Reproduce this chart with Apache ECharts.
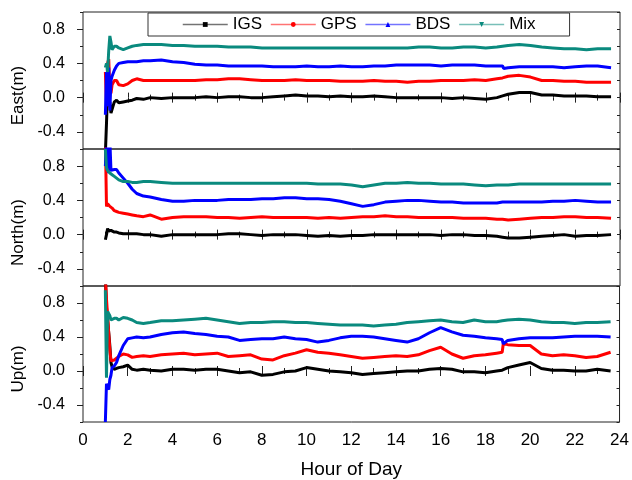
<!DOCTYPE html>
<html>
<head>
<meta charset="utf-8">
<script src="https://cdn.jsdelivr.net/npm/echarts@6/dist/echarts.min.js"></script>
<style>
  html, body { margin: 0; padding: 0; background: #fff; }
  #main { width: 632px; height: 480px; }
</style>
</head>
<body>
<div id="main"></div>
<script>
// hour of day (shared by every series)
const hours = [1.0, 1.05, 1.1, 1.15, 1.2, 1.25, 1.3, 1.4, 1.5, 1.6, 1.8, 2.0, 2.2, 2.4, 2.7, 3.0, 3.5, 4.0, 4.5, 5.0,
  5.5, 6.0, 6.5, 7.0, 7.5, 8.0, 8.5, 9.0, 9.5, 10.0, 10.5, 11.0, 11.5, 12.0, 12.5, 13.0, 13.5, 14.0, 14.5, 15.0,
  15.5, 16.0, 16.5, 17.0, 17.5, 18.0, 18.5, 18.75, 18.8, 19.0, 19.5, 20.0, 20.5, 21.0, 21.5, 22.0, 22.5, 23.0, 23.6]

// East (m)
const eastIGS = [-0.65, -0.3, 0.1, -0.1, -0.05, -0.18, -0.17, -0.05, -0.03, -0.06, -0.05, -0.04, -0.03, -0.01, -0.02, 0.0, -0.01, 0.0, 0.0, 0.0,
  0.01, 0.0, 0.01, 0.01, 0.0, 0.0, 0.01, 0.02, 0.03, 0.02, 0.02, 0.01, 0.02, 0.01, 0.01, 0.02, 0.01, 0.0, 0.0, 0.0,
  0.0, 0.0, -0.01, 0.0, -0.01, -0.02, 0.0, 0.02, 0.02, 0.04, 0.06, 0.06, 0.03, 0.03, 0.02, 0.02, 0.02, 0.01, 0.01]
const eastGPS = [0.3, -0.1, 0.4, 0.45, 0.1, 0.05, 0.15, 0.2, 0.2, 0.15, 0.14, 0.16, 0.2, 0.22, 0.2, 0.2, 0.2, 0.2, 0.2, 0.2,
  0.21, 0.21, 0.22, 0.22, 0.21, 0.2, 0.2, 0.2, 0.21, 0.2, 0.2, 0.2, 0.19, 0.19, 0.19, 0.2, 0.19, 0.19, 0.18, 0.19,
  0.19, 0.2, 0.2, 0.2, 0.21, 0.2, 0.22, 0.23, 0.23, 0.25, 0.26, 0.24, 0.2, 0.2, 0.19, 0.19, 0.18, 0.18, 0.18]
const eastBDS = [-0.2, 0.3, -0.1, 0.35, -0.15, 0.2, 0.25, 0.32, 0.37, 0.4, 0.41, 0.42, 0.42, 0.42, 0.43, 0.43, 0.44, 0.42, 0.41, 0.39,
  0.38, 0.38, 0.37, 0.37, 0.37, 0.37, 0.36, 0.36, 0.36, 0.37, 0.36, 0.36, 0.37, 0.36, 0.36, 0.37, 0.37, 0.38, 0.38, 0.38,
  0.38, 0.37, 0.38, 0.38, 0.38, 0.37, 0.37, 0.37, 0.34, 0.35, 0.36, 0.36, 0.36, 0.36, 0.35, 0.36, 0.37, 0.37, 0.35]
const eastMix = [0.35, 0.4, 0.3, 0.55, 0.72, 0.65, 0.56, 0.6, 0.6, 0.58, 0.56, 0.58, 0.6, 0.61, 0.62, 0.62, 0.62, 0.61, 0.61, 0.6,
  0.6, 0.6, 0.59, 0.59, 0.59, 0.58, 0.58, 0.58, 0.58, 0.58, 0.58, 0.58, 0.58, 0.58, 0.58, 0.58, 0.58, 0.58, 0.58, 0.59,
  0.59, 0.58, 0.58, 0.59, 0.59, 0.58, 0.59, 0.6, 0.6, 0.61, 0.62, 0.61, 0.59, 0.58, 0.57, 0.57, 0.56, 0.57, 0.57]

// North (m)
const northIGS = [-0.06, 0.0, 0.07, 0.04, 0.06, 0.05, 0.04, 0.03, 0.03, 0.02, 0.01, 0.01, 0.01, 0.01, 0.0, 0.0, -0.02, 0.0, 0.0, 0.0,
  0.0, 0.0, 0.01, 0.01, 0.0, -0.01, 0.0, 0.0, 0.0, -0.01, -0.02, -0.01, -0.02, -0.01, -0.01, 0.0, 0.0, 0.0, 0.0, 0.0,
  0.0, -0.01, 0.0, 0.0, -0.01, -0.01, -0.02, -0.03, -0.03, -0.04, -0.04, -0.03, -0.02, -0.01, 0.0, -0.02, -0.01, -0.01, 0.0]
const northGPS = [1.1, 0.33, 0.36, 0.34, 0.33, 0.34, 0.31, 0.28, 0.27, 0.26, 0.25, 0.24, 0.23, 0.22, 0.21, 0.23, 0.18, 0.2, 0.21, 0.21,
  0.21, 0.2, 0.2, 0.19, 0.2, 0.21, 0.2, 0.2, 0.2, 0.2, 0.19, 0.2, 0.19, 0.2, 0.21, 0.21, 0.22, 0.21, 0.21, 0.2,
  0.2, 0.2, 0.2, 0.19, 0.19, 0.19, 0.18, 0.18, 0.18, 0.17, 0.18, 0.19, 0.2, 0.2, 0.21, 0.21, 0.2, 0.2, 0.19]
const northBDS = [0.8, 1.1, 0.8, 0.72, 1.1, 0.75, 0.74, 0.76, 0.76, 0.72, 0.66, 0.6, 0.53, 0.48, 0.45, 0.44, 0.41, 0.39, 0.39, 0.4,
  0.4, 0.4, 0.41, 0.41, 0.41, 0.42, 0.42, 0.43, 0.43, 0.42, 0.42, 0.41, 0.39, 0.36, 0.33, 0.35, 0.38, 0.39, 0.4, 0.4,
  0.39, 0.38, 0.38, 0.37, 0.37, 0.37, 0.37, 0.38, 0.38, 0.38, 0.38, 0.38, 0.38, 0.39, 0.39, 0.4, 0.39, 0.38, 0.38]
const northMix = [1.0, 0.78, 0.75, 0.74, 0.72, 0.72, 0.7, 0.68, 0.66, 0.64, 0.62, 0.62, 0.61, 0.61, 0.62, 0.62, 0.61, 0.6, 0.6, 0.6,
  0.6, 0.6, 0.6, 0.6, 0.6, 0.6, 0.6, 0.6, 0.6, 0.6, 0.59, 0.59, 0.59, 0.58, 0.56, 0.58, 0.6, 0.6, 0.61, 0.6,
  0.6, 0.59, 0.59, 0.59, 0.58, 0.57, 0.58, 0.58, 0.58, 0.58, 0.59, 0.59, 0.59, 0.59, 0.59, 0.59, 0.59, 0.59, 0.59]

// Up (m)
const upIGS = [1.1, 0.75, 0.6, 0.45, 0.3, 0.1, 0.05, 0.02, 0.03, 0.04, 0.05, 0.07, 0.02, 0.01, 0.02, 0.01, 0.0, 0.02, 0.02, 0.01,
  0.02, 0.02, 0.0, -0.02, -0.01, -0.05, -0.04, -0.01, 0.0, 0.04, 0.02, 0.0, -0.01, -0.02, -0.04, -0.03, -0.02, -0.01, 0.0, 0.0,
  0.02, 0.03, 0.02, -0.01, -0.01, -0.02, 0.0, 0.01, 0.01, 0.04, 0.07, 0.1, 0.03, 0.01, 0.01, 0.0, 0.0, 0.02, 0.0]
const upGPS = [1.1, 0.85, 0.65, 0.45, 0.25, 0.12, 0.1, 0.13, 0.15, 0.17, 0.2, 0.19, 0.16, 0.17, 0.18, 0.17, 0.19, 0.2, 0.21, 0.19,
  0.2, 0.21, 0.17, 0.18, 0.19, 0.14, 0.13, 0.18, 0.21, 0.25, 0.22, 0.21, 0.19, 0.17, 0.15, 0.16, 0.17, 0.18, 0.17, 0.19,
  0.24, 0.28, 0.2, 0.15, 0.18, 0.19, 0.21, 0.22, 0.32, 0.31, 0.3, 0.3, 0.2, 0.18, 0.19, 0.18, 0.16, 0.17, 0.22]
const upBDS = [-0.6, -0.15, -0.18, -0.22, -0.1, -0.05, 0.04, 0.06, 0.1, 0.18, 0.3, 0.38, 0.39, 0.4, 0.39, 0.4, 0.43, 0.45, 0.46, 0.44,
  0.43, 0.41, 0.4, 0.36, 0.37, 0.38, 0.38, 0.4, 0.38, 0.37, 0.34, 0.36, 0.39, 0.41, 0.41, 0.4, 0.38, 0.36, 0.34, 0.38,
  0.45, 0.51, 0.46, 0.42, 0.41, 0.39, 0.38, 0.37, 0.32, 0.36, 0.38, 0.39, 0.39, 0.39, 0.4, 0.41, 0.41, 0.41, 0.4]
const upMix = [0.95, -0.08, 0.7, 0.72, 0.65, 0.6, 0.6, 0.62, 0.62, 0.6, 0.63, 0.62, 0.6, 0.57, 0.56, 0.57, 0.59, 0.59, 0.6, 0.61,
  0.62, 0.6, 0.58, 0.56, 0.57, 0.57, 0.58, 0.58, 0.57, 0.57, 0.56, 0.55, 0.54, 0.54, 0.54, 0.53, 0.54, 0.55, 0.57, 0.58,
  0.59, 0.6, 0.58, 0.57, 0.6, 0.58, 0.58, 0.59, 0.59, 0.6, 0.61, 0.6, 0.58, 0.57, 0.57, 0.56, 0.57, 0.57, 0.58]

// tick labels
const yLabels = [-0.4, 0.0, 0.4, 0.8]

const panelNames = ['East(m)', 'North(m)', 'Up(m)']
const seriesNames = ['IGS', 'GPS', 'BDS', 'Mix']
const colors = ['#000000', '#ff0000', '#0000ff', '#0a8a7e']
const symbols = ['rect', 'circle', 'triangle', 'path://M0,0 L10,0 L5,9 Z']
const panels = [
  [eastIGS, eastGPS, eastBDS, eastMix],
  [northIGS, northGPS, northBDS, northMix],
  [upIGS, upGPS, upBDS, upMix]
]

const font = 'Liberation Sans, Arial, sans-serif'
const gridTops = [12, 149, 286]
const tickColor = '#222'

let grids = gridTops.map(t => ({
  left: 83, right: 12, top: t, height: 137,
  show: true, borderColor: '#222', borderWidth: 1, backgroundColor: 'transparent'
}))

let xAxes = []
let yAxes = []
// main axes: bottom x (labels on last panel), left y with major ticks and labels
for (let i = 0; i < 3; i++) {
  xAxes.push({
    type: 'value', gridIndex: i, min: 0, max: 24, interval: 2,
    axisLine: { show: false },
    axisTick: { inside: true, length: 5, lineStyle: { color: tickColor } },
    minorTick: { show: true, splitNumber: 2, length: 3, lineStyle: { color: tickColor } },
    splitLine: { show: false },
    axisLabel: { show: i === 2, color: '#000', fontFamily: font, fontSize: 17, margin: 10 },
    name: i === 2 ? 'Hour of Day' : '',
    nameLocation: 'middle', nameGap: 38,
    nameTextStyle: { color: '#000', fontFamily: font, fontSize: 19 }
  })
  yAxes.push({
    type: 'value', gridIndex: i, min: -0.6, max: 1.0,
    axisLine: { show: false },
    axisTick: { inside: false, length: 6, customValues: yLabels, lineStyle: { color: tickColor } },
    splitLine: { show: false },
    axisLabel: {
      customValues: yLabels, color: '#000', fontFamily: font, fontSize: 16, margin: 18,
      formatter: v => v.toFixed(1)
    },
    name: panelNames[i], nameLocation: 'middle', nameGap: 56, nameRotate: 90,
    nameTextStyle: { color: '#000', fontFamily: font, fontSize: 17, padding: [0, 30, 0, 0] }
  })
}
// top x ticks and right y ticks (inside), plus minor ticks on the left
for (let i = 0; i < 3; i++) {
  xAxes.push({
    type: 'value', gridIndex: i, position: 'top', min: 0, max: 24, interval: 2,
    axisLine: { show: false },
    axisTick: { inside: true, length: 5, lineStyle: { color: tickColor } },
    minorTick: { show: true, splitNumber: 2, length: 3, lineStyle: { color: tickColor } },
    splitLine: { show: false }, axisLabel: { show: false }
  })
  yAxes.push({
    type: 'value', gridIndex: i, position: 'right', min: -0.6, max: 1.0,
    axisLine: { show: false },
    axisTick: { inside: true, length: 5, customValues: yLabels, lineStyle: { color: tickColor } },
    splitLine: { show: false }, axisLabel: { show: false }
  })
  yAxes.push({
    type: 'value', gridIndex: i, position: 'right', min: -0.6, max: 1.0, interval: 0.2,
    axisLine: { show: false },
    axisTick: { inside: true, length: 3, lineStyle: { color: tickColor } },
    splitLine: { show: false }, axisLabel: { show: false }
  })
  yAxes.push({
    type: 'value', gridIndex: i, position: 'left', min: -0.6, max: 1.0, interval: 0.2,
    axisLine: { show: false },
    axisTick: { inside: false, length: 3, lineStyle: { color: tickColor } },
    splitLine: { show: false }, axisLabel: { show: false }
  })
}

let series = []
panels.forEach((vals, p) => {
  vals.forEach((arr, k) => {
    series.push({
      name: seriesNames[k],
      type: 'line',
      xAxisIndex: p,
      yAxisIndex: p,
      data: hours.map((h, j) => [h, arr[j]]),
      symbol: symbols[k],
      symbolSize: 5,
      showSymbol: false,
      clip: true,
      animation: false,
      lineStyle: { color: colors[k], width: 3 },
      itemStyle: { color: colors[k] },
      z: 2 + k
    })
  })
})

let chart = echarts.init(document.getElementById('main'), null, { renderer: 'canvas' })
chart.setOption({
  backgroundColor: '#fff',
  animation: false,
  grid: grids,
  xAxis: xAxes,
  yAxis: yAxes,
  legend: {
    data: seriesNames,
    left: 148, top: 13,
    padding: [3, 34, 3, 34],
    itemWidth: 45, itemHeight: 6, itemGap: 8,
    borderColor: '#333', borderWidth: 1,
    backgroundColor: '#fff',
    lineStyle: { width: 1.5, opacity: 0.55 },
    textStyle: { color: '#000', fontFamily: font, fontSize: 17 }
  },
  series: series
})
</script>
</body>
</html>
